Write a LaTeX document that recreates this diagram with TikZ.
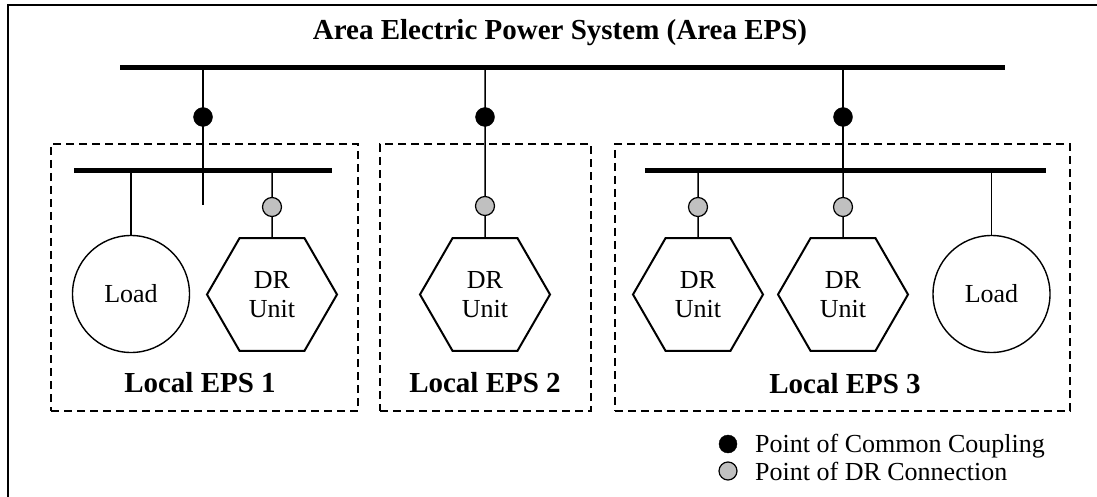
\documentclass[tikz,border=0pt]{standalone}
\usepackage{fontspec}
\setmainfont{Liberation Serif}
\usetikzlibrary{shapes.geometric,backgrounds}
\definecolor{sivo}{RGB}{192,192,192}
\tikzset{
	shema/.style={x=1pt, y=-1pt, font=\fontsize{26}{29}\selectfont},
	zbiralka/.style={fill=black, inner sep=0pt, minimum height=5pt},
	pcc/.style={circle, draw, fill=black, inner sep=0pt, minimum size=19pt},
	pdr/.style={circle, draw, line width=1.2pt, fill=sivo, inner sep=0pt, minimum size=19pt},
	breme/.style={circle, draw, line width=1.4pt, fill=white, inner sep=0pt, minimum size=117pt},
	enota/.style={regular polygon, regular polygon sides=6, draw, line width=2pt, fill=white,
	              inner sep=0pt, minimum size=130pt, align=center},
	lokal/.style={draw, line width=1.3pt, dash pattern=on 8pt off 5pt, inner sep=0pt},
	vod/.style={line width=1.5pt},
	naslov/.style={font=\fontsize{29}{32}\selectfont\bfseries},
	legenda/.style={anchor=base west, inner sep=0pt},
}

\begin{document}
\begin{tikzpicture}[shema]
\useasboundingbox (0,0) rectangle (1097,497);

% ---------- okvir ----------
\draw[line width=2.5pt] (8,497) -- (8,5) -- (1097,5);
\node[naslov] (title) at (560,33) {Area Electric Power System (Area EPS)};

% ---------- zbiralke ----------
\node[zbiralka, minimum width=885pt] (area) at (562.5,68) {};
\node[zbiralka, minimum width=258pt] (bus1) at (203,171) {};
\node[zbiralka, minimum width=401pt] (bus3) at (845.5,171) {};

% ---------- lokalni sistemi ----------
\node[lokal, minimum width=307pt, minimum height=267pt] (eps1) at (204.5,277.5) {};
\node[lokal, minimum width=211pt, minimum height=267pt] (eps2) at (485.5,277.5) {};
\node[lokal, minimum width=455pt, minimum height=267pt] (eps3) at (842.5,277.5) {};
\node[naslov] (l1) at (200,383) {Local EPS 1};
\node[naslov] (l2) at (485,383) {Local EPS 2};
\node[naslov] (l3) at (845,384) {Local EPS 3};

% ---------- bremena in enote ----------
\node[breme] (load1) at (131,294) {Load};
\node[enota] (dr1) at (272,294.5) {DR\\Unit};
\node[enota] (dr2) at (485,294.5) {DR\\Unit};
\node[enota] (dr3) at (698,294.5) {DR\\Unit};
\node[enota] (dr4) at (843,294.5) {DR\\Unit};
\node[breme] (load2) at (991.5,294) {Load};

% ---------- prikljucne tocke ----------
\node[pcc] (pcc1) at (203,117) {};
\node[pcc] (pcc2) at (485,117) {};
\node[pcc] (pcc3) at (843,117) {};
\node[pdr] (pdr1) at (272,207) {};
\node[pdr] (pdr2) at (485,206) {};
\node[pdr] (pdr3) at (698,207) {};
\node[pdr] (pdr4) at (843,207) {};
\coordinate (konec1) at (203,205);

% ---------- vodi ----------
\begin{scope}[on background layer]
    \draw[vod] (pcc1 |- area.center) -- (konec1);
    \draw[vod] (load1 |- bus1.center) -- (load1.north);
    \draw[vod] (pdr1 |- bus1.center) -- (dr1.north);
    \draw[vod] (pcc2 |- area.center) -- (dr2.north);
    \draw[vod] (pcc3 |- area.center) -- (pcc3 |- bus3.center);
    \draw[vod] (pdr3 |- bus3.center) -- (dr3.north);
    \draw[vod] (pdr4 |- bus3.center) -- (dr4.north);
    \draw[vod] (load2 |- bus3.center) -- (load2.north);
\end{scope}

% ---------- legenda ----------
\node[pcc, minimum size=18pt] (lpcc) at (728,444) {};
\node[pdr, minimum size=18pt] (lpdr) at (728,471) {};
\node[legenda] (tpcc) at (755,452) {Point of Common Coupling};
\node[legenda] (tpdr) at (755,480) {Point of DR Connection};

\end{tikzpicture}
\end{document}
